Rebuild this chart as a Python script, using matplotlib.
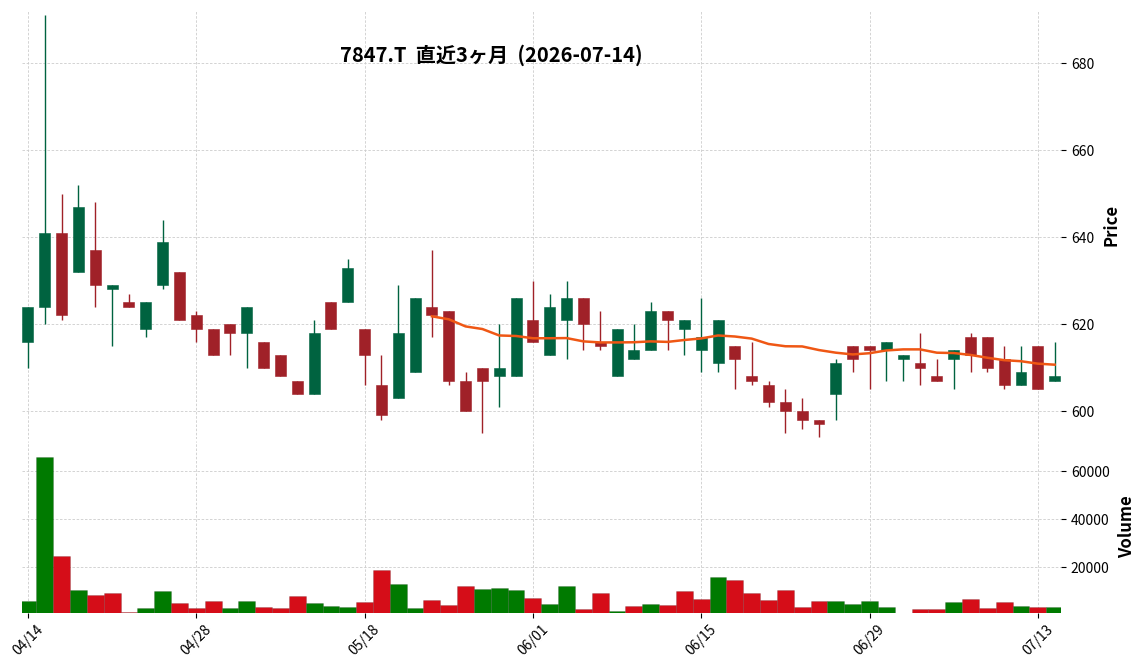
import numpy as np
import pandas as pd
import matplotlib
matplotlib.use('Agg')
import matplotlib.pyplot as plt

plt.rcParams['font.family'] = ['Noto Sans CJK JP', 'DejaVu Sans']

# trading days (TSE holidays removed)
holidays = ['2026-04-29', '2026-05-04', '2026-05-05', '2026-05-06']
dates = pd.bdate_range('2026-04-14', '2026-07-14', freq='C', holidays=holidays)

opens = [616, 624, 641, 632, 637, 628, 625, 619, 629, 632,
         622, 619, 620, 618, 616, 613, 607, 604, 625, 625,
         619, 606, 603, 609, 624, 623, 607, 610, 608, 608,
         621, 613, 621, 626, 616, 608, 612, 614, 623, 619,
         614, 611, 615, 608, 606, 602, 600, 598, 604, 615,
         615, 614, 612, 611, 608, 612, 617, 617, 612, 606,
         615, 607]
highs = [624, 691, 650, 652, 648, 629, 627, 625, 644, 632,
         623, 619, 620, 624, 616, 613, 607, 621, 625, 635,
         619, 613, 629, 626, 637, 623, 609, 610, 620, 626,
         630, 627, 630, 626, 623, 619, 620, 625, 623, 621,
         626, 621, 615, 616, 607, 605, 603, 598, 612, 615,
         615, 616, 613, 618, 612, 614, 618, 617, 615, 615,
         615, 616]
lows = [610, 620, 621, 632, 624, 615, 624, 617, 628, 621,
        616, 613, 613, 610, 610, 608, 604, 604, 619, 625,
        606, 598, 603, 609, 617, 606, 600, 595, 601, 608,
        616, 613, 612, 614, 614, 608, 612, 614, 614, 613,
        609, 609, 605, 606, 601, 595, 596, 594, 598, 609,
        605, 607, 607, 606, 607, 605, 609, 609, 605, 606,
        605, 607]
closes = [624, 641, 622, 647, 629, 629, 624, 625, 639, 621,
          619, 613, 618, 624, 610, 608, 604, 618, 619, 633,
          613, 599, 618, 626, 622, 607, 600, 607, 610, 626,
          616, 624, 626, 620, 615, 619, 614, 623, 621, 621,
          617, 621, 612, 607, 602, 600, 598, 597, 611, 612,
          614, 616, 613, 610, 607, 614, 613, 610, 606, 609,
          605, 608]
volumes = [6000, 66000, 24700, 10600, 8500, 9300, 1400, 3100, 10100, 5100,
           3100, 6000, 3100, 6000, 3500, 3100, 8100, 5100, 3900, 3500,
           5600, 18900, 13100, 3100, 6400, 4300, 12200, 11000, 11400, 10600,
           7200, 4700, 12200, 2600, 9300, 1800, 3900, 4700, 4300, 10100,
           6800, 16000, 14700, 9300, 6400, 10600, 3500, 6000, 6000, 4700,
           6000, 3500, 0, 2600, 2600, 5600, 6800, 3100, 5600, 3900,
           3500, 3500]

title = '7847.T  直近3ヶ月  (2026-07-14)'
mav = 25

up_c, down_c = '#006340', '#a02128'
vup_c, vdown_c = '#007a00', '#d50d18'
ma_c = '#ef5714'

o = np.array(opens, float)
h = np.array(highs, float)
l = np.array(lows, float)
c = np.array(closes, float)
v = np.array(volumes, float)
x = np.arange(len(c))

candle_cols = [up_c if cc > oo else down_c for oo, cc in zip(o, c)]
# volume colour: close vs previous close
vol_cols = [vup_c if o[0] < c[0] else vdown_c] + \
           [vup_c if prev < cur else vdown_c for prev, cur in zip(c[:-1], c[1:])]
ma = pd.Series(c).rolling(mav).mean()

fig = plt.figure(figsize=(11.44, 6.70), dpi=100)
ax = fig.add_axes([0.019, 0.3448, 0.9085, 0.6388])
axv = fig.add_axes([0.019, 0.0855, 0.9085, 0.2563], sharex=ax)

# candles
ax.vlines(x, l, h, colors=candle_cols, linewidth=1.0, zorder=2)
ax.bar(x, np.abs(c - o), bottom=np.minimum(o, c), width=0.65,
       color=candle_cols, edgecolor=candle_cols, linewidth=0.4, zorder=3)
ax.plot(x, ma, color=ma_c, linewidth=1.8, zorder=4)

# volume
axv.bar(x, v, width=1.0, color=vol_cols, edgecolor='#00000030', linewidth=0.5, zorder=3)

ax.set_xlim(-0.37, 61.38)
ax.set_ylim(593.6, 692)
axv.set_ylim(1100, 72600)

ticks = list(range(0, len(x), 10))
axv.set_xticks(ticks)
axv.set_xticklabels([dates[i].strftime('%m/%d') for i in ticks], rotation=45, fontsize=10)
ax.set_yticks([600, 620, 640, 660, 680])
axv.set_yticks([20000, 40000, 60000])

for a in (ax, axv):
    a.grid(True, linestyle=(0, (3, 2)), color='#cccccc', linewidth=0.6)
    a.set_axisbelow(True)
    for s in a.spines.values():
        s.set_visible(False)
    a.yaxis.tick_right()
    a.yaxis.set_label_position('right')
    a.tick_params(axis='y', labelsize=10, length=3.5, width=0.8, colors='black')
    a.tick_params(axis='x', length=3.5, width=0.8)

ax.tick_params(axis='x', labelbottom=False, length=0)
ax.set_ylabel('Price', fontsize=12, fontweight='bold', labelpad=6)
axv.set_ylabel('Volume', fontsize=12, fontweight='bold', labelpad=6)
axv.ticklabel_format(axis='y', style='plain', useOffset=False)

fig.text(491 / 1144, 1 - 55 / 670, title, ha='center', va='center',
         fontsize=14.5, fontweight='bold')

fig.savefig('out.png', dpi=100)
